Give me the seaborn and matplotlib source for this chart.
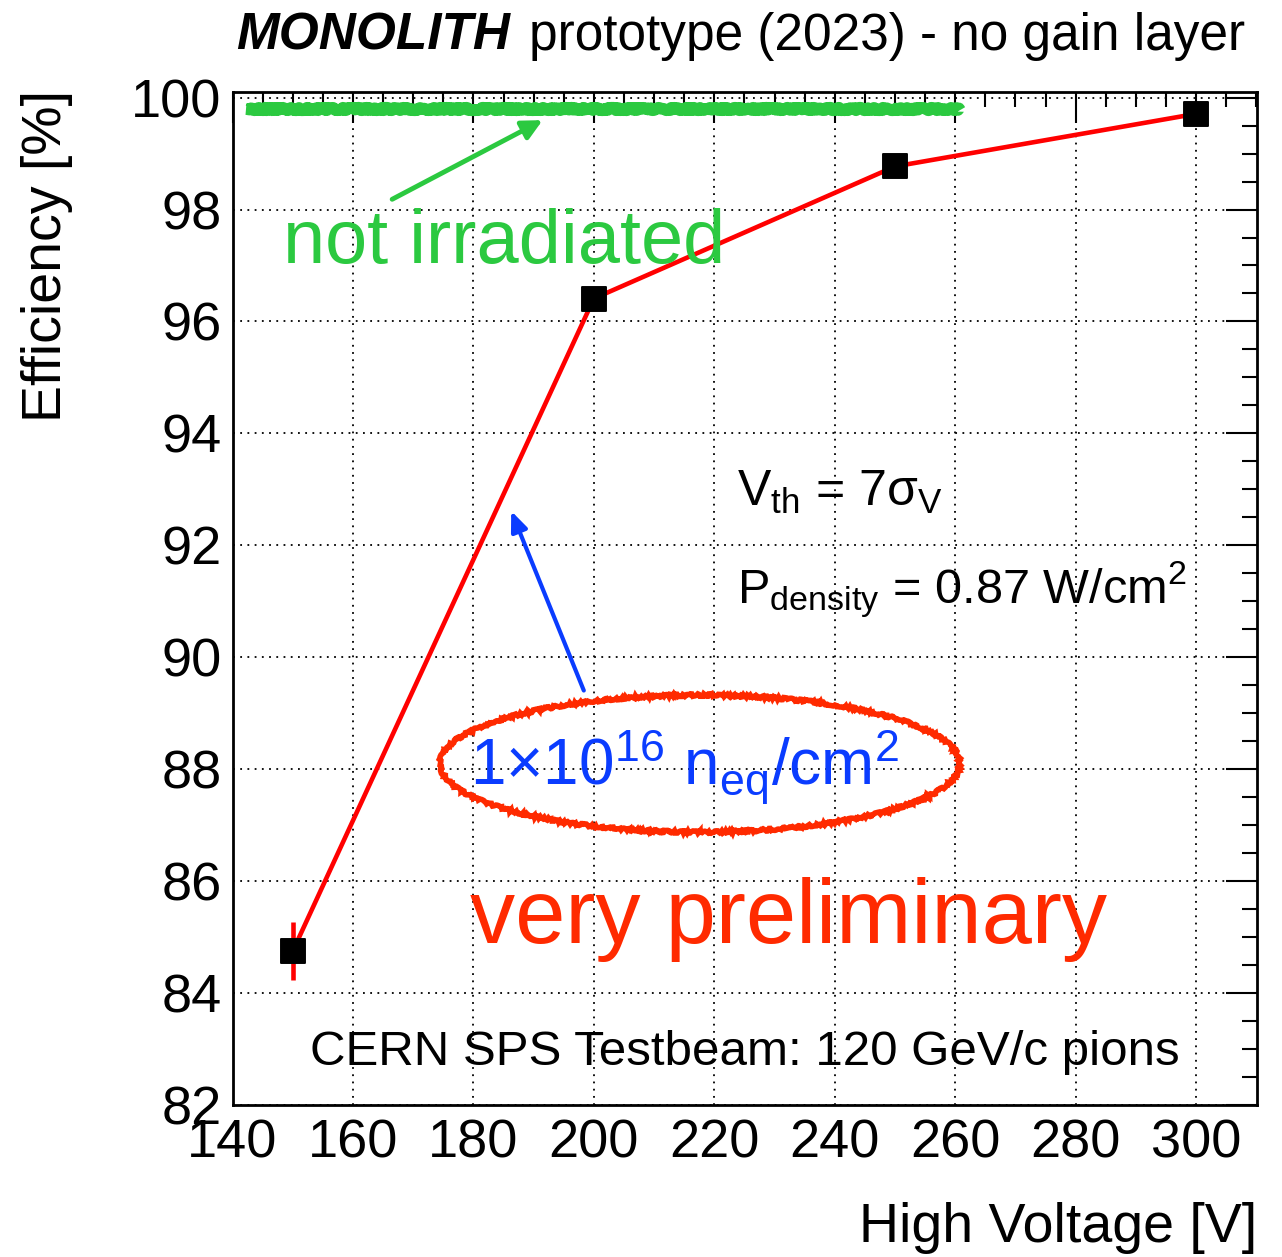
import matplotlib
matplotlib.use("Agg")
import matplotlib.pyplot as plt
from matplotlib.patches import Ellipse
from matplotlib.ticker import MultipleLocator
import seaborn as sns
import pandas as pd

# measured points (irradiated sample, 1e16 neq/cm2)
hv = [150, 200, 250, 300]
eff = [84.75, 96.41, 98.77, 99.71]
eff_err = [0.52, 0.05, 0.05, 0.05]

# hand-drawn "not irradiated" band
green_hv = [142.3, 260.8]
green_eff = [99.8, 99.8]

# the red ellipse around the fluence label (centre, width, height)
ell_center = (217.6, 88.1)
ell_w, ell_h = 86.3, 2.45

sns.set_style("white")
plt.rcParams['font.family'] = ['Liberation Sans', 'DejaVu Sans']
plt.rcParams['mathtext.fontset'] = 'custom'
plt.rcParams['mathtext.rm'] = 'Liberation Sans'
plt.rcParams['mathtext.it'] = 'Liberation Sans:italic'
plt.rcParams['mathtext.bf'] = 'Liberation Sans:bold'
for k in ['text.color', 'axes.labelcolor', 'xtick.color', 'ytick.color']:
    plt.rcParams[k] = 'black'

RED = '#ff0000'
GREEN = '#2bc940'
BLUE = '#0a3cff'
ORED = '#ff2a00'

fig = plt.figure(figsize=(12.82, 12.57), dpi=100)
ax = fig.add_axes([232.5/1282, 1 - 1105/1257, (1257-232.5)/1282, (1105-92)/1257])

df = pd.DataFrame({'hv': hv, 'eff': eff})
sns.lineplot(data=df, x='hv', y='eff', ax=ax, color=RED, linewidth=3.3, zorder=3)
ax.errorbar(hv, eff, yerr=eff_err, fmt='none', ecolor=RED, elinewidth=3.3, zorder=3)
sns.scatterplot(data=df, x='hv', y='eff', ax=ax, marker='s', s=300, color='black',
                edgecolor='black', zorder=4)

gline = sns.lineplot(x=green_hv, y=green_eff, ax=ax, color=GREEN, linewidth=8.5, zorder=2)
gline.lines[-1].set_sketch_params(scale=1.2, length=3, randomness=30)
gline.lines[-1].set_solid_capstyle('butt')

ell = Ellipse(ell_center, ell_w, ell_h, fill=False, edgecolor=ORED, linewidth=4, zorder=3)
ell.set_sketch_params(scale=1.2, length=2, randomness=30)
ax.add_patch(ell)

ax.set_xlim(140, 310.1)
ax.set_ylim(82, 100.1)
ax.xaxis.set_major_locator(MultipleLocator(20))
ax.xaxis.set_minor_locator(MultipleLocator(5))
ax.yaxis.set_major_locator(MultipleLocator(2))
ax.yaxis.set_minor_locator(MultipleLocator(0.5))
ax.tick_params(which='both', direction='in', top=True, right=True, width=1.5, labelsize=39,
               color='black', labelcolor='black')
ax.tick_params(which='major', length=22)
ax.tick_params(which='minor', length=11)
ax.tick_params(axis='y', pad=8)
ax.tick_params(axis='x', pad=10)
ax.grid(True, which='major', color='black', linestyle=(0, (1, 3)), linewidth=1.3)
for s in ax.spines.values():
    s.set_linewidth(2)
    s.set_color('black')
ax.set_xlabel('')
ax.set_ylabel('')

fig.text(1257/1282, 1 - 1228/1257, 'High Voltage [V]', ha='right', va='center', fontsize=40)
fig.text(47/1282, 1 - 90/1257, 'Efficiency [%]', rotation=90, ha='center', va='top', fontsize=40)

# title, two parts
t2 = fig.text(1245/1282, 1 - 50/1257, 'prototype (2023) - no gain layer', ha='right',
              va='baseline', fontsize=37)
fig.canvas.draw()
bb = t2.get_window_extent()
fig.text((bb.x0 - 19)/1282, 1 - 50/1257, 'MONOLITH', ha='right', va='baseline',
         fontsize=37, fontweight='bold', fontstyle='italic')

# annotations
ax.text(148.4, 97.05, 'not irradiated', color=GREEN, fontsize=54.5, va='baseline', zorder=5)
ax.annotate('', xy=(191.9, 99.62), xytext=(166.1, 98.16),
            arrowprops=dict(arrowstyle='-|>,head_length=1.2,head_width=0.6', color=GREEN, lw=3.5))
ax.annotate('', xy=(186.1, 92.66), xytext=(198.5, 89.36),
            arrowprops=dict(arrowstyle='-|>,head_length=1.2,head_width=0.5', color=BLUE, lw=3))
ax.text(179.4, 87.71, '1×10$^{16}$ n$_{\\rm eq}$/cm$^2$', color=BLUE, fontsize=46,
        va='baseline', zorder=5)
ax.text(223.7, 92.71, 'V$_{\\rm th}$ = 7σ$_{\\rm V}$', fontsize=36, va='baseline')
ax.text(223.7, 90.96, 'P$_{\\rm density}$ = 0.87 W/cm$^2$', fontsize=35, va='baseline')
ax.text(179.4, 84.9, 'very preliminary', color=ORED, fontsize=65, va='baseline', zorder=5)
ax.text(152.9, 82.71, 'CERN SPS Testbeam: 120 GeV/c pions', fontsize=35.5, va='baseline')

# clipped blue glyph at the left border
fig.text(8/1282, 1 - 462/1257, '2', color=BLUE, fontsize=34, ha='right', va='center', rotation=90)

fig.savefig('out.png', dpi=100)
